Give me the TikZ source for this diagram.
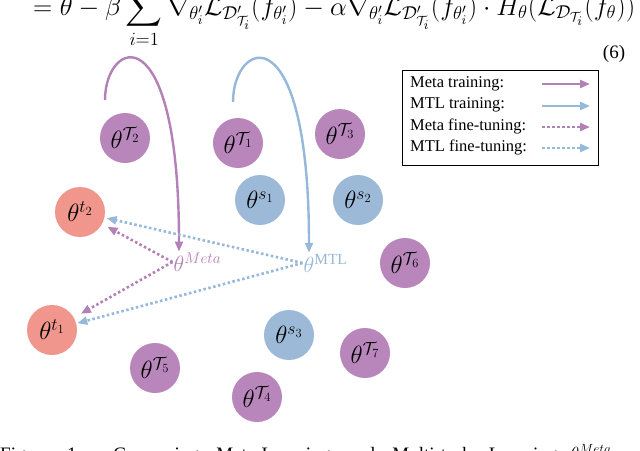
\RequirePackage{fix-cm}
\documentclass[tikz,border=0pt]{standalone}
\usepackage{amsmath}
\usepackage{fontspec}
\setmainfont{Liberation Serif}
\usetikzlibrary{arrows.meta}
\definecolor{pur}{RGB}{184,134,187}
\definecolor{blu}{RGB}{156,186,216}
\definecolor{sal}{RGB}{240,150,140}
\definecolor{purl}{RGB}{180,128,184}
\definecolor{blul}{RGB}{150,184,218}
\tikzset{
  ball/.style={circle, minimum size=50pt, inner sep=0pt, font=\fontsize{25}{29}\selectfont},
  pball/.style={ball, fill=pur},
  bball/.style={ball, fill=blu},
  sball/.style={ball, fill=sal},
  tip/.style={-{Triangle[length=10pt,width=8pt]}},
  trainP/.style={tip, line width=2.4pt, draw=purl},
  trainB/.style={tip, line width=2.4pt, draw=blul},
  fineP/.style={tip, line width=2.6pt, draw=purl, dash pattern=on 2.5pt off 2.5pt},
  fineB/.style={tip, line width=2.6pt, draw=blul, dash pattern=on 2.5pt off 2.5pt},
  legtext/.style={anchor=west, inner sep=0pt, font=\fontsize{16.5}{19}\selectfont},
  lbl/.style={inner sep=1pt, font=\fontsize{22}{26}\selectfont},
}
\begin{document}
\begin{tikzpicture}[x=1pt,y=-1pt]
\useasboundingbox (0,0) rectangle (640,450);
\clip (0,0) rectangle (640,450);
\fill[white] (0,0) rectangle (640,450);
% equation
\node[anchor=base west, inner sep=0pt, font=\fontsize{18}{22}\selectfont] (eq) at (33,15)
 {\resizebox{602pt}{!}{$\displaystyle =\theta-\beta\sum_{i=1}^{N}\nabla_{\theta_i'}\mathcal{L}_{\mathcal{D}'_{\mathcal{T}_i}}(f_{\theta_i'})-\alpha\nabla_{\theta_i'}\mathcal{L}_{\mathcal{D}'_{\mathcal{T}_i}}(f_{\theta_i'})\cdot H_\theta(\mathcal{L}_{\mathcal{D}_{\mathcal{T}_i}}(f_\theta))$}};
\node[inner sep=0pt, font=\fontsize{19}{22}\selectfont] (eqno) at (614,54) {(6)};
% legend
\node[draw, line width=0.8pt, minimum width=196pt, minimum height=95pt, anchor=north west, inner sep=0pt] (legend) at (402,70) {};
\node[legtext] (l1) at (410,84) {Meta training:};
\node[legtext] (l2) at (410,105) {MTL training:};
\node[legtext] (l3) at (410,126) {Meta fine-tuning:};
\node[legtext] (l4) at (410,147) {MTL fine-tuning:};
\coordinate (a1) at (542,84); \coordinate (b1) at (590,84);
\coordinate (a2) at (542,106); \coordinate (b2) at (590,106);
\coordinate (a3) at (542,127); \coordinate (b3) at (590,127);
\coordinate (a4) at (542,148); \coordinate (b4) at (590,148);
\draw[trainP] (a1) -- (b1);
\draw[trainB] (a2) -- (b2);
\draw[fineP] (a3) -- (b3);
\draw[fineB] (a4) -- (b4);
% circles
\node[pball] (T2) at (125,138) {$\theta^{\mathcal{T}_2}$};
\node[pball] (T1) at (238,143) {$\theta^{\mathcal{T}_1}$};
\node[pball] (T3) at (340,134) {$\theta^{\mathcal{T}_3}$};
\node[bball] (s1) at (260,200) {$\theta^{s_1}$};
\node[bball] (s2) at (358,200) {$\theta^{s_2}$};
\node[sball] (t2) at (80,212) {$\theta^{t_2}$};
\node[sball] (t1) at (52,330) {$\theta^{t_1}$};
\node[pball] (T5) at (155,368) {$\theta^{\mathcal{T}_5}$};
\node[pball] (T6) at (405,263) {$\theta^{\mathcal{T}_6}$};
\node[bball] (s3) at (289,335) {$\theta^{s_3}$};
\node[pball] (T7) at (365,353) {$\theta^{\mathcal{T}_7}$};
\node[pball] (T4) at (257,397) {$\theta^{\mathcal{T}_4}$};
% theta meta / mtl
\node[lbl, text=purl] (meta) at (179,262) {$\theta\rlap{$^{Meta}$}$};
\node[lbl, text=blul] (mtl) at (309,263) {$\theta\rlap{$^{\mathrm{MTL}}$}$};
% training curves
\coordinate (ms) at (105,100);
\coordinate (bs) at (233,102);
\draw[trainP] (ms) .. controls (105,40) and (179,10) .. (meta.north);
\draw[trainB] (bs) .. controls (233,40) and (309,10) .. (mtl.north);
% fine-tuning
\draw[fineB, shorten >=2pt] (mtl.west) -- (t2);
\draw[fineB, shorten >=1pt] (mtl.west) -- (t1);
\draw[fineP, shorten >=6pt] (meta.west) -- (t2);
\draw[fineP, shorten >=8pt] (meta.west) -- (t1);
% caption
\node[anchor=base west, inner sep=0pt, font=\fontsize{19}{22}\selectfont] (cap) at (0,460)
 {\makebox[562pt][s]{Figure 1: Comparing Meta-Learning and Multi-task Learning.}\hspace{8pt}$\theta^{Meta}$};
\end{tikzpicture}
\end{document}
